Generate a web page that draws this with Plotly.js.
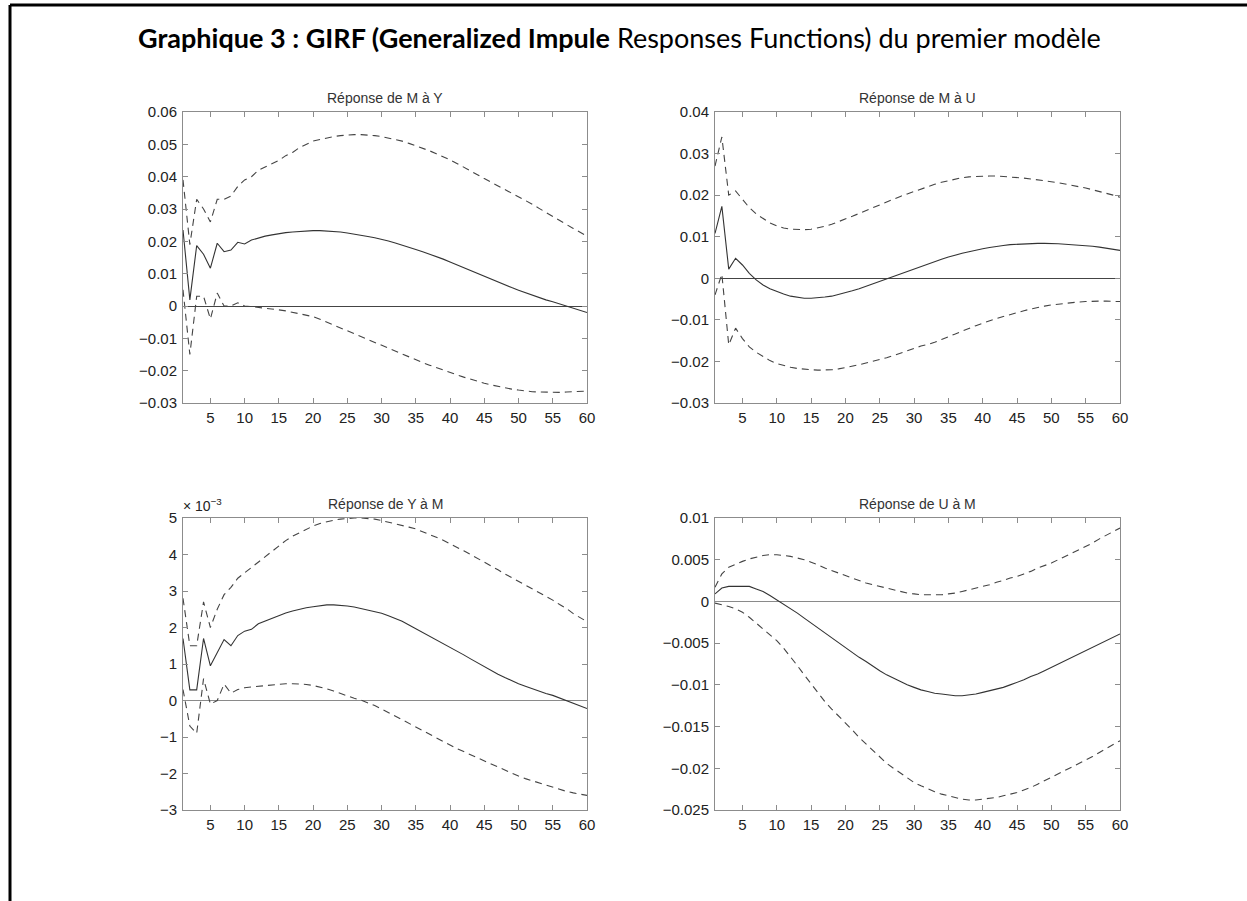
<!DOCTYPE html>
<html>
<head>
<meta charset="utf-8">
<script src="https://cdn.plot.ly/plotly-3.0.1.min.js"></script>
<style>html,body{margin:0;padding:0;background:#fff;}#chart{width:1247px;height:901px;}</style>
</head>
<body>
<div id="chart"></div>
<script>
// Horizon (periods)
var periods = [];
for (var i = 1; i <= 60; i++) periods.push(i);

var xTicks = [5,10,15,20,25,30,35,40,45,50,55,60];

// Réponse de M à Y
var MY_mid = [0.0235,0.0019,0.0187,0.0160,0.0117,0.0194,0.0168,0.0173,0.0197,0.0192,
  0.0204,0.0211,0.0216,0.0220,0.0224,0.0227,0.0229,0.0231,0.0232,0.0233,
  0.0233,0.0232,0.0231,0.0229,0.0226,0.0223,0.0219,0.0215,0.0211,0.0207,
  0.0201,0.0195,0.0189,0.0182,0.0175,0.0168,0.0161,0.0153,0.0145,0.0136,
  0.0127,0.0118,0.0109,0.0100,0.0091,0.0082,0.0074,0.0065,0.0057,0.0049,
  0.0041,0.0034,0.0026,0.0019,0.0013,0.0006,0.0000,-0.0006,-0.0013,-0.0020];
var MY_up = [0.039,0.019,0.033,0.030,0.026,0.033,0.033,0.034,0.037,0.039,
  0.040,0.042,0.043,0.044,0.045,0.0465,0.0475,0.0490,0.0500,0.0510,
  0.0515,0.0520,0.0524,0.0527,0.0529,0.0530,0.0530,0.0529,0.0527,0.0524,
  0.0520,0.0515,0.0510,0.0503,0.0496,0.0488,0.0480,0.0471,0.0462,0.0452,
  0.0441,0.0430,0.0418,0.0406,0.0394,0.0383,0.0372,0.0361,0.0350,0.0339,
  0.0327,0.0315,0.0302,0.0289,0.0276,0.0264,0.0252,0.0240,0.0228,0.0216];
var MY_lo = [0.005,-0.015,0.003,0.003,-0.004,0.004,0.000,0.000,0.001,0.000,
  -0.0002,-0.0004,-0.0006,-0.0009,-0.0012,-0.0015,-0.0019,-0.0023,-0.0028,-0.0033,
  -0.0041,-0.0050,-0.0060,-0.0068,-0.0077,-0.0086,-0.0095,-0.0104,-0.0113,-0.0122,
  -0.0131,-0.0140,-0.0149,-0.0158,-0.0167,-0.0175,-0.0183,-0.0191,-0.0199,-0.0206,
  -0.0213,-0.0220,-0.0227,-0.0233,-0.0239,-0.0244,-0.0249,-0.0253,-0.0257,-0.0260,
  -0.0263,-0.0265,-0.0266,-0.0267,-0.0267,-0.0267,-0.0266,-0.0265,-0.0264,-0.0263];

// Réponse de M à U
var MU_mid = [0.0108,0.0173,0.0022,0.0048,0.0032,0.0012,-0.0004,-0.0016,-0.0025,-0.0032,
  -0.0038,-0.0043,-0.0046,-0.0048,-0.0048,-0.0047,-0.0045,-0.0043,-0.0039,-0.0035,
  -0.0030,-0.0025,-0.0019,-0.0013,-0.0007,-0.0001,0.0005,0.0011,0.0017,0.0023,
  0.0029,0.0034,0.0040,0.0046,0.0051,0.0056,0.0060,0.0064,0.0068,0.0071,
  0.0074,0.0077,0.0079,0.0081,0.0082,0.0083,0.0084,0.0084,0.0084,0.0084,
  0.0083,0.0082,0.0081,0.0080,0.0079,0.0077,0.0075,0.0072,0.0070,0.0067];
var MU_up = [0.027,0.034,0.020,0.021,0.019,0.017,0.0155,0.0143,0.0133,0.0126,
  0.0121,0.0118,0.0117,0.0117,0.0118,0.0121,0.0125,0.0130,0.0136,0.0142,
  0.0149,0.0156,0.0163,0.0170,0.0177,0.0184,0.0191,0.0197,0.0203,0.0209,
  0.0215,0.0221,0.0226,0.0231,0.0235,0.0239,0.0242,0.0244,0.0245,0.0246,
  0.0246,0.0246,0.0245,0.0244,0.0243,0.0241,0.0239,0.0237,0.0235,0.0233,
  0.0230,0.0227,0.0224,0.0221,0.0217,0.0213,0.0209,0.0204,0.0200,0.0195];
var MU_lo = [-0.004,0.001,-0.016,-0.012,-0.0145,-0.0165,-0.0178,-0.0189,-0.0198,-0.0205,
  -0.0210,-0.0214,-0.0217,-0.0219,-0.0220,-0.0221,-0.0221,-0.0220,-0.0218,-0.0215,
  -0.0212,-0.0208,-0.0204,-0.0200,-0.0196,-0.0191,-0.0186,-0.0180,-0.0174,-0.0168,
  -0.0163,-0.0159,-0.0154,-0.0147,-0.0141,-0.0134,-0.0127,-0.0120,-0.0114,-0.0108,
  -0.0102,-0.0097,-0.0092,-0.0087,-0.0082,-0.0078,-0.0074,-0.0070,-0.0067,-0.0064,
  -0.0062,-0.0060,-0.0058,-0.0057,-0.0056,-0.0055,-0.0055,-0.0055,-0.0055,-0.0056];

// Réponse de Y à M (in units of 10^-3)
var YM_mid = [1.70,0.29,0.29,1.70,0.95,1.30,1.67,1.50,1.78,1.90,
  1.95,2.10,2.18,2.26,2.34,2.40,2.45,2.50,2.54,2.57,
  2.60,2.62,2.62,2.61,2.59,2.56,2.52,2.48,2.44,2.39,
  2.32,2.25,2.17,2.07,1.97,1.87,1.77,1.67,1.57,1.47,
  1.36,1.25,1.14,1.03,0.92,0.82,0.72,0.63,0.54,0.46,
  0.39,0.32,0.25,0.19,0.14,0.07,0.00,-0.07,-0.15,-0.22];
var YM_up = [2.80,1.50,1.50,2.70,2.00,2.50,2.90,3.10,3.35,3.50,
  3.65,3.80,3.95,4.10,4.25,4.38,4.50,4.60,4.70,4.78,
  4.85,4.90,4.94,4.97,4.99,5.00,5.00,4.99,4.97,4.93,
  4.89,4.85,4.80,4.75,4.70,4.63,4.55,4.47,4.39,4.30,
  4.20,4.10,4.00,3.90,3.80,3.69,3.58,3.47,3.37,3.26,
  3.16,3.06,2.95,2.85,2.75,2.63,2.52,2.38,2.27,2.16];
var YM_lo = [0.30,-0.70,-0.90,0.60,-0.10,0.00,0.45,0.20,0.30,0.35,
  0.37,0.39,0.41,0.43,0.45,0.46,0.46,0.46,0.44,0.41,
  0.37,0.32,0.26,0.19,0.12,0.06,0.01,-0.06,-0.14,-0.23,
  -0.33,-0.43,-0.53,-0.63,-0.73,-0.83,-0.94,-1.04,-1.14,-1.24,
  -1.32,-1.40,-1.49,-1.57,-1.65,-1.74,-1.82,-1.91,-1.99,-2.07,
  -2.14,-2.20,-2.27,-2.33,-2.39,-2.44,-2.49,-2.53,-2.57,-2.60];

// Réponse de U à M
var UM_mid = [0.0009,0.0016,0.0018,0.0018,0.0018,0.0018,0.0015,0.0012,0.0007,0.0002,
  -0.0003,-0.0008,-0.0014,-0.0020,-0.0026,-0.0032,-0.0038,-0.0043,-0.0049,-0.0055,
  -0.0061,-0.0067,-0.0072,-0.0078,-0.0083,-0.0088,-0.0092,-0.0096,-0.0100,-0.0103,
  -0.0106,-0.0108,-0.0110,-0.0111,-0.0112,-0.0113,-0.0113,-0.0112,-0.0111,-0.0109,
  -0.0107,-0.0105,-0.0103,-0.0100,-0.0097,-0.0094,-0.0090,-0.0087,-0.0083,-0.0079,
  -0.0075,-0.0071,-0.0067,-0.0063,-0.0059,-0.0055,-0.0051,-0.0047,-0.0043,-0.0039];
var UM_up = [0.0017,0.0033,0.0041,0.0045,0.0048,0.0051,0.0053,0.0055,0.0056,0.0056,
  0.0055,0.0054,0.0052,0.0050,0.0047,0.0044,0.0040,0.0037,0.0034,0.0031,
  0.0028,0.0025,0.0022,0.0020,0.0018,0.0016,0.0014,0.0012,0.0010,0.0009,
  0.0008,0.0008,0.0008,0.0008,0.0009,0.0010,0.0012,0.0014,0.0016,0.0018,
  0.0020,0.0023,0.0025,0.0028,0.0030,0.0033,0.0036,0.0040,0.0043,0.0046,
  0.0050,0.0054,0.0058,0.0062,0.0066,0.0070,0.0075,0.0079,0.0084,0.0088];
var UM_lo = [-0.0002,-0.0004,-0.0006,-0.0009,-0.0013,-0.0019,-0.0026,-0.0033,-0.0040,-0.0047,
  -0.0056,-0.0066,-0.0077,-0.0088,-0.0099,-0.0110,-0.0120,-0.0129,-0.0137,-0.0145,
  -0.0154,-0.0163,-0.0171,-0.0179,-0.0187,-0.0194,-0.0200,-0.0206,-0.0212,-0.0217,
  -0.0221,-0.0225,-0.0228,-0.0231,-0.0233,-0.0235,-0.0237,-0.0238,-0.0238,-0.0237,
  -0.0236,-0.0235,-0.0233,-0.0231,-0.0229,-0.0226,-0.0223,-0.0219,-0.0215,-0.0211,
  -0.0207,-0.0203,-0.0199,-0.0195,-0.0191,-0.0186,-0.0181,-0.0176,-0.0171,-0.0167];

var panelTitles = ["Réponse de M à Y", "Réponse de M à U", "Réponse de Y à M", "Réponse de U à M"];
var mainTitle = "<b>Graphique 3 : GIRF (Generalized Impule</b> Responses Functions) du premier modèle";

var W = 1247, H = 901;
function px(x){ return x / W; }
function py(y){ return 1 - y / H; }

var panels = [
  {mid: MY_mid, up: MY_up, lo: MY_lo, x: [183,587], y: [112,403], range: [-0.03,0.06], dtick: 0.01, zc: '#444'},
  {mid: MU_mid, up: MU_up, lo: MU_lo, x: [715,1120], y: [112,403], range: [-0.03,0.04], dtick: 0.01, zc: '#444'},
  {mid: YM_mid, up: YM_up, lo: YM_lo, x: [183,587], y: [518,810], range: [-3,5], dtick: 1, zc: '#8a8a8a'},
  {mid: UM_mid, up: UM_up, lo: UM_lo, x: [715,1120], y: [518,810], range: [-0.025,0.01], dtick: 0.005, zc: '#8a8a8a'}
];

var traces = [];
var layout = {
  width: W, height: H,
  margin: {l:0, r:0, t:0, b:0},
  paper_bgcolor: '#fff', plot_bgcolor: '#fff',
  showlegend: false,
  font: {family: 'Liberation Sans, Arial, sans-serif', color: '#222', size: 15},
  annotations: [], shapes: []
};

panels.forEach(function(p, k){
  var n = k + 1;
  var xa = 'x' + (n === 1 ? '' : n), ya = 'y' + (n === 1 ? '' : n);
  var lineSolid = {color: '#333', width: 1.1};
  var lineDash = {color: '#444', width: 1.1, dash: '7px,5px'};
  traces.push({x: periods, y: p.up, xaxis: xa, yaxis: ya, mode: 'lines', line: lineDash, hoverinfo: 'skip'});
  traces.push({x: periods, y: p.lo, xaxis: xa, yaxis: ya, mode: 'lines', line: lineDash, hoverinfo: 'skip'});
  traces.push({x: periods, y: p.mid, xaxis: xa, yaxis: ya, mode: 'lines', line: lineSolid, hoverinfo: 'skip'});
  var axCommon = {
    showline: true, linecolor: '#8c8c8c', linewidth: 1, mirror: 'ticks',
    ticks: 'inside', ticklen: 5, tickcolor: '#8c8c8c', tickwidth: 1,
    showgrid: false, fixedrange: true,
    tickfont: {family: 'Liberation Sans, Arial, sans-serif', size: 15, color: '#222'}
  };
  layout['xaxis' + (n === 1 ? '' : n)] = Object.assign({}, axCommon, {
    domain: [px(p.x[0]), px(p.x[1])], anchor: 'y' + (n === 1 ? '' : n),
    range: [1, 60], tickmode: 'array', tickvals: xTicks, zeroline: false, ticklabelstandoff: 1
  });
  layout['yaxis' + (n === 1 ? '' : n)] = Object.assign({}, axCommon, {
    domain: [py(p.y[1]), py(p.y[0])], anchor: 'x' + (n === 1 ? '' : n),
    range: p.range, dtick: p.dtick, tick0: 0,
    zeroline: true, zerolinecolor: p.zc, zerolinewidth: 1, ticklabelstandoff: 2
  });
  layout.annotations.push({
    xref: 'paper', yref: 'paper', x: px((p.x[0] + p.x[1]) / 2), y: py(p.y[0] - 4),
    xanchor: 'center', yanchor: 'bottom', showarrow: false, text: panelTitles[k],
    font: {family: 'Liberation Sans, Arial, sans-serif', size: 14, color: '#333'}
  });
});

layout.annotations.push({
  xref: 'paper', yref: 'paper', x: px(181), y: py(518 - 2), xanchor: 'left', yanchor: 'bottom',
  showarrow: false, text: '× 10<sup>−3</sup>',
  font: {family: 'Liberation Sans, Arial, sans-serif', size: 14, color: '#222'}
});

layout.annotations.push({
  xref: 'paper', yref: 'paper', x: px(619), y: py(37), xanchor: 'center', yanchor: 'middle',
  showarrow: false, text: mainTitle,
  font: {family: 'Lato, Carlito, Calibri, sans-serif', size: 27, color: '#000'}
});

layout.shapes.push({type: 'line', xref: 'paper', yref: 'paper', x0: px(10), x1: 1, y0: py(5), y1: py(5), line: {color: '#000', width: 3}});
layout.shapes.push({type: 'line', xref: 'paper', yref: 'paper', x0: px(10), x1: px(10), y0: py(5), y1: 0, line: {color: '#000', width: 3}});

Plotly.newPlot('chart', traces, layout, {staticPlot: true, displayModeBar: false});
</script>
</body>
</html>
